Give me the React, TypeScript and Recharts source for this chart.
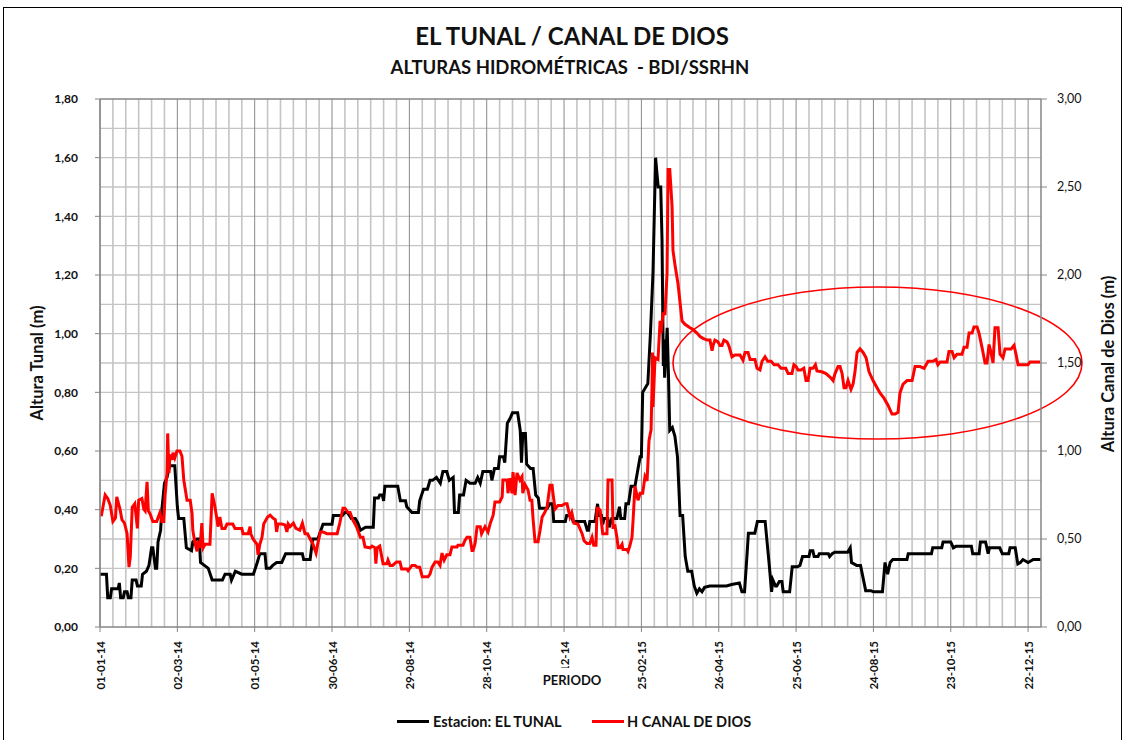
import React from 'react';
import { LineChart, Line, XAxis, YAxis, CartesianGrid, ReferenceLine, ReferenceArea } from 'recharts';

const tickDays = [0, 60, 120, 180, 240, 300, 360, 420, 480, 540, 600, 660, 720];
const tickLabels = ['01-01-14', '02-03-14', '01-05-14', '30-06-14', '29-08-14', '28-10-14', '27-12-14', '25-02-15', '26-04-15', '25-06-15', '24-08-15', '23-10-15', '22-12-15'];
const leftTicks = [0, 0.2, 0.4, 0.6, 0.8, 1.0, 1.2, 1.4, 1.6, 1.8];
const rightTicks = [0, 0.5, 1.0, 1.5, 2.0, 2.5, 3.0];

// Estacion: EL TUNAL (m) — day index from 01-01-14
const tunalDays = [0,5,6,8,9,14,15,16,18,19,21,22,24,25,28,29,32,33,36,38,40,41,43,44,45,47,48,50,52,54,58,60,61,65,67,71,72,75,77,78,81,84,87,95,97,101,102,105,110,119,122,124,128,129,132,134,137,141,144,157,158,163,165,169,173,180,181,188,190,192,195,198,200,202,206,212,213,216,217,219,220,221,231,233,237,238,242,247,248,251,254,256,258,261,264,266,269,271,274,275,278,279,282,284,287,291,293,295,297,303,304,306,309,310,313,314,316,318,320,324,326,327,328,330,331,334,336,338,340,341,347,349,351,352,361,362,366,367,376,378,379,380,384,386,387,389,390,391,394,395,397,401,403,404,407,408,410,412,415,417,419,420,421,425,427,429,431,432,433,435,436,437,437.5,438,440,441,442,444,446,448,450,452,454,456,459,461,463,465,467,469,473,486,490,496,498,500,502,503,508,510,516,519,521,522,524,525,527,529,530,535,537,541,543,545,550,551,553,554,557,558,565,566,568,570,580,582,583,587,590,594,598,600,607,609,611,613,615,626,627,645,646,653,654,660,662,664,676,677,682,683,687,689,690,698,700,705,706,710,712,714,716,720,724,730];
const tunalValues = [0.18,0.18,0.10,0.10,0.13,0.13,0.15,0.10,0.10,0.12,0.12,0.10,0.10,0.16,0.16,0.14,0.14,0.18,0.19,0.21,0.27,0.27,0.20,0.20,0.29,0.33,0.40,0.49,0.51,0.55,0.55,0.41,0.37,0.37,0.27,0.26,0.29,0.30,0.30,0.22,0.21,0.20,0.16,0.16,0.18,0.18,0.16,0.19,0.18,0.18,0.22,0.25,0.25,0.20,0.20,0.21,0.22,0.22,0.25,0.25,0.23,0.23,0.30,0.30,0.35,0.35,0.38,0.38,0.39,0.39,0.37,0.37,0.355,0.33,0.34,0.34,0.44,0.44,0.45,0.45,0.43,0.48,0.48,0.43,0.43,0.41,0.39,0.39,0.43,0.47,0.47,0.50,0.50,0.51,0.49,0.53,0.53,0.50,0.51,0.39,0.39,0.45,0.45,0.50,0.49,0.49,0.51,0.49,0.53,0.53,0.50,0.54,0.54,0.58,0.58,0.56,0.695,0.71,0.73,0.73,0.67,0.56,0.66,0.66,0.555,0.54,0.54,0.45,0.44,0.405,0.405,0.42,0.42,0.36,0.36,0.38,0.38,0.36,0.36,0.33,0.33,0.36,0.36,0.42,0.38,0.38,0.35,0.37,0.37,0.34,0.37,0.37,0.41,0.37,0.37,0.42,0.42,0.48,0.48,0.53,0.58,0.58,0.80,0.83,1.00,1.21,1.60,1.55,1.50,1.50,1.32,0.89,0.98,0.85,1.02,0.86,0.67,0.68,0.65,0.58,0.38,0.38,0.24,0.19,0.19,0.14,0.115,0.13,0.12,0.135,0.14,0.14,0.145,0.15,0.12,0.12,0.25,0.32,0.32,0.36,0.36,0.22,0.12,0.16,0.14,0.14,0.155,0.155,0.12,0.12,0.205,0.205,0.21,0.24,0.24,0.26,0.26,0.24,0.24,0.25,0.25,0.24,0.25,0.255,0.255,0.27,0.22,0.21,0.21,0.124,0.124,0.12,0.12,0.22,0.18,0.22,0.23,0.23,0.25,0.25,0.27,0.27,0.29,0.29,0.27,0.275,0.275,0.25,0.25,0.29,0.29,0.25,0.27,0.27,0.25,0.25,0.27,0.27,0.215,0.22,0.23,0.22,0.23,0.23];

// H CANAL DE DIOS (m) — right axis
const canalDays = [1,4,6,8,10,12,13,15.5,17,19,21,22.5,23.5,25,27,29,30,32.5,34,35,36.5,37.5,39,41,44,45,46.5,48,49.5,50.5,52,52.5,53.5,54.3,56,56.6,58,59.7,62,63.6,65,67.5,70,71.4,72,73.7,75.3,76,77.6,79,80,81.5,85.3,87,89,90.8,91.5,93,94.6,97,98.5,103,104.7,110,111,115,116.4,117,118.7,121.8,122.6,124,125.7,127,130,132,134,136,137,138,141,143.5,145,146,147.4,150,152,155,157,159,161,163,165,167.6,169,171,173,176,184,186,188.5,190,192.4,194,196,199,202,204,205.6,209.5,211,213.3,214,215,217,219.6,222.6,223.4,225,227,230,232.7,234,238,239,242,244.4,246,248,250,254.5,256,257.6,260,262,263.8,265.3,267,269,271.5,273,277,277.7,281.6,283,284.7,287,288.6,289.4,291,292.5,295,296,298.7,301,302.6,305,306.4,310,312,312.6,315.8,316.5,318,319.6,320.4,322,323.5,325.8,327.4,328,329.7,332,333.6,335,336,337.5,339.8,341.4,343,345,346.8,349,350.7,351.4,353,355.3,358.4,360.7,362.3,364.6,366,367.7,370.8,374,375.5,377.8,380,381.7,383,384.8,385.6,386.3,388,388.6,390,393.3,394.1,397.2,398,399.5,401,402,403.4,405,405.7,408.8,409.6,411,412.7,413.5,415,416.5,417.4,419,421,422.8,424.4,425.9,427.5,428.2,428.6,429,430.6,432.9,434.5,435.2,436.8,438.3,439.9,440.7,442,443.8,444.5,446,448.4,451.5,453.8,457.7,460,463.1,465.5,467.8,471,473.2,474.8,475.6,477,479.4,481,482.5,484,486.4,488,490.3,492.6,496.5,498.8,500.4,502.7,504.3,508.1,509.7,512,513.6,515.9,518,520.6,523,526,528.3,532,533.8,536.8,538.3,540,541.5,543.8,546,547.7,549.3,550.8,553.2,555,556.2,560,563.2,566.3,568.7,570.2,572.6,574.1,575.7,577.2,578.7,580.3,582.6,584.2,585.7,587.3,589.6,592,594.3,596.6,599.7,602.8,605.1,608.2,611.3,614.4,616.8,619.1,620.6,623,626.1,630,632.3,636.2,639.3,642.4,646.2,648.5,650,651.7,657.1,658.6,661,662.6,664.8,668.7,670.3,672.6,674.2,676.5,678,680.4,681.9,684.2,686.6,688.1,689.7,691.2,692.8,694.3,696.7,698.2,700.5,702.1,706.8,709.1,710.6,712.2,719.9,721.5,729.3];
const canalValues = [0.63,0.75,0.73,0.69,0.60,0.62,0.74,0.67,0.61,0.59,0.53,0.34,0.40,0.68,0.70,0.56,0.72,0.73,0.67,0.66,0.825,0.66,0.64,0.60,0.60,0.62,0.65,0.60,0.60,0.75,0.875,1.10,0.875,0.98,0.95,0.99,0.96,1.00,1.00,0.97,0.835,0.72,0.72,0.645,0.55,0.475,0.43,0.49,0.45,0.59,0.45,0.47,0.47,0.76,0.69,0.61,0.57,0.625,0.56,0.56,0.585,0.585,0.56,0.56,0.53,0.53,0.57,0.53,0.50,0.47,0.41,0.47,0.51,0.585,0.625,0.635,0.62,0.61,0.54,0.585,0.585,0.58,0.54,0.585,0.57,0.59,0.56,0.55,0.59,0.53,0.53,0.50,0.475,0.42,0.475,0.54,0.54,0.53,0.53,0.59,0.675,0.675,0.65,0.65,0.61,0.57,0.51,0.51,0.455,0.45,0.46,0.45,0.36,0.45,0.46,0.36,0.36,0.38,0.35,0.35,0.37,0.37,0.33,0.33,0.32,0.35,0.35,0.34,0.34,0.285,0.285,0.30,0.34,0.37,0.37,0.35,0.42,0.38,0.41,0.41,0.455,0.455,0.465,0.465,0.49,0.51,0.51,0.435,0.435,0.475,0.57,0.57,0.53,0.57,0.54,0.585,0.635,0.71,0.71,0.74,0.835,0.835,0.76,0.845,0.76,0.88,0.75,0.875,0.835,0.855,0.76,0.81,0.78,0.72,0.72,0.61,0.485,0.485,0.55,0.625,0.65,0.68,0.805,0.805,0.76,0.67,0.69,0.69,0.70,0.70,0.625,0.65,0.59,0.585,0.53,0.49,0.475,0.475,0.51,0.465,0.465,0.675,0.675,0.665,0.62,0.53,0.53,0.835,0.835,0.57,0.575,0.51,0.45,0.45,0.47,0.44,0.44,0.43,0.46,0.51,0.60,0.80,0.75,0.72,0.76,0.76,0.855,0.83,1.06,1.12,1.35,1.56,1.25,1.53,1.52,1.74,1.67,1.78,1.78,2.01,2.60,2.60,2.39,2.14,2.06,1.95,1.74,1.72,1.70,1.69,1.67,1.65,1.64,1.63,1.63,1.57,1.60,1.63,1.62,1.60,1.60,1.63,1.62,1.595,1.535,1.545,1.545,1.515,1.56,1.56,1.52,1.52,1.47,1.46,1.51,1.535,1.51,1.51,1.49,1.49,1.47,1.47,1.44,1.44,1.49,1.48,1.46,1.46,1.47,1.40,1.40,1.47,1.47,1.49,1.455,1.45,1.44,1.42,1.40,1.44,1.48,1.48,1.44,1.36,1.36,1.40,1.35,1.38,1.45,1.56,1.58,1.56,1.53,1.45,1.40,1.36,1.33,1.30,1.26,1.21,1.21,1.22,1.33,1.38,1.40,1.40,1.48,1.48,1.47,1.51,1.51,1.52,1.49,1.505,1.505,1.565,1.565,1.53,1.55,1.55,1.59,1.59,1.67,1.67,1.705,1.705,1.67,1.59,1.50,1.50,1.605,1.56,1.50,1.70,1.70,1.55,1.53,1.58,1.58,1.60,1.55,1.49,1.49,1.505,1.505];

// Annotation ellipse extents (days, right-axis metres)
const ellipseDays = [444.5, 761.8];
const ellipseLevels = [1.068, 1.932];

const minorGridDays: number[] = [];
for (let d = 10; d < 730; d += 10) if (d % 60 !== 0) minorGridDays.push(d);
const hGridValues: number[] = [];
for (let i = 1; i <= 17; i++) hGridValues.push(Math.round(i * 10) / 100);

const rows = (() => {
  const m = new Map<number, any>();
  tunalDays.forEach((d, i) => { m.set(d, { ...(m.get(d) || { day: d }), tunal: tunalValues[i] }); });
  canalDays.forEach((d, i) => { m.set(d, { ...(m.get(d) || { day: d }), canal: canalValues[i] }); });
  return Array.from(m.values()).sort((a, b) => a.day - b.day);
})();

const FONT = 'Lato, "Open Sans", sans-serif';
const AXIS = '#868686';
const comma = (v: number) => v.toFixed(2).replace('.', ',');

const XTick = (p: any) => {
  const { x, y, payload } = p;
  const idx = tickDays.indexOf(payload.value);
  return (
    <text x={x} y={y} transform={`rotate(-90, ${x}, ${y})`} textAnchor="end" dominantBaseline="central"
      fontFamily={FONT} fontWeight={700} fontSize={11.5} fill="#111">
      {idx >= 0 ? tickLabels[idx] : ''}
    </text>
  );
};

const EllipseShape = (p: any) => {
  const w = Math.abs(p.width), h = Math.abs(p.height);
  const x = Math.min(p.x, p.x + p.width), y = Math.min(p.y, p.y + p.height);
  return <ellipse cx={x + w / 2} cy={y + h / 2} rx={w / 2} ry={h / 2} fill="none" stroke="#ff0000" strokeWidth={1.6} />;
};

export default function App() {
  return (
    <div style={{ position: 'absolute', left: 0, top: 0, width: 1127, height: 740, background: '#fff', fontFamily: FONT, overflow: 'hidden' }}>
      <div style={{ position: 'absolute', left: 3, top: 7, width: 1117, height: 760, border: '1px solid #000' }} />
      <div style={{ position: 'absolute', left: 0, width: 1144, top: 20, textAlign: 'center', fontWeight: 700, fontSize: 24, color: '#111', lineHeight: '32px' }}>EL TUNAL / CANAL DE DIOS</div>
      <div style={{ position: 'absolute', left: 0, width: 1140, top: 55, textAlign: 'center', fontWeight: 700, fontSize: 18.5, color: '#111', lineHeight: '24px' }}>ALTURAS HIDROMÉTRICAS&nbsp; - BDI/SSRHN</div>
      <div style={{ position: 'absolute', left: 0, top: 0 }}>
        <LineChart width={1127} height={740} data={rows} margin={{ top: 99, right: 26, bottom: 53, left: 40 }}>
          <CartesianGrid yAxisId="left" vertical={false} horizontalValues={hGridValues} stroke="#c4c4c4" strokeWidth={1.4} />
          <CartesianGrid yAxisId="left" horizontal={false} verticalValues={minorGridDays} stroke="#c4c4c4" strokeWidth={1.6} />
          <CartesianGrid yAxisId="left" horizontal={false} verticalValues={tickDays} stroke="#8a8a8a" strokeWidth={1} />
          <XAxis dataKey="day" type="number" domain={[0, 730]} ticks={tickDays} interval={0} allowDataOverflow
            height={60} tick={<XTick />} tickSize={5} tickMargin={9} stroke={AXIS} axisLine={{ stroke: AXIS, strokeWidth: 1.5 }} tickLine={{ stroke: AXIS }} />
          <YAxis yAxisId="left" domain={[0, 1.8]} ticks={leftTicks} interval={0} width={60} tickFormatter={comma}
            tickSize={5} tickMargin={17} axisLine={{ stroke: AXIS, strokeWidth: 1.5 }} tickLine={{ stroke: AXIS }}
            tick={{ fontFamily: FONT, fontWeight: 700, fontSize: 12, fill: '#111' }} />
          <YAxis yAxisId="right" orientation="right" domain={[0, 3]} ticks={rightTicks} interval={0} width={60} tickFormatter={comma}
            tickSize={6} tickMargin={10} axisLine={{ stroke: AXIS, strokeWidth: 1.5 }} tickLine={{ stroke: AXIS }}
            tick={{ fontFamily: FONT, fontWeight: 400, fontSize: 12.5, fill: '#111' }} />
          <ReferenceLine yAxisId="left" y={1.8} stroke={AXIS} strokeWidth={1.5} />
          <Line yAxisId="left" dataKey="tunal" type="linear" stroke="#000" strokeWidth={3} dot={false} connectNulls isAnimationActive={false} />
          <Line yAxisId="right" dataKey="canal" type="linear" stroke="#ff0000" strokeWidth={3} dot={false} connectNulls isAnimationActive={false} />
          <ReferenceArea yAxisId="right" x1={ellipseDays[0]} x2={ellipseDays[1]} y1={ellipseLevels[0]} y2={ellipseLevels[1]}
            ifOverflow="visible" shape={<EllipseShape />} />
        </LineChart>
      </div>
      <div style={{ position: 'absolute', left: 37, top: 363, transform: 'translate(-50%, -50%) rotate(-90deg)', whiteSpace: 'nowrap', fontWeight: 700, fontSize: 16.5, color: '#111' }}>Altura Tunal (m)</div>
      <div style={{ position: 'absolute', left: 1108, top: 364, transform: 'translate(-50%, -50%) rotate(-90deg)', whiteSpace: 'nowrap', fontWeight: 700, fontSize: 16.5, color: '#111' }}>Altura Canal de Dios (m)</div>
      <div style={{ position: 'absolute', left: 540, top: 668, width: 64, height: 28, background: '#fff', textAlign: 'center', fontWeight: 700, fontSize: 13, lineHeight: '24px', color: '#111' }}>PERIODO</div>
      <div style={{ position: 'absolute', left: 397, top: 720, width: 32, height: 3, background: '#000' }} />
      <div style={{ position: 'absolute', left: 433, top: 712, fontWeight: 700, fontSize: 14.5, lineHeight: '20px', color: '#111', whiteSpace: 'nowrap' }}>Estacion: EL TUNAL</div>
      <div style={{ position: 'absolute', left: 592, top: 720, width: 32, height: 3, background: '#ff0000' }} />
      <div style={{ position: 'absolute', left: 627, top: 712, fontWeight: 700, fontSize: 14.5, lineHeight: '20px', color: '#111', whiteSpace: 'nowrap' }}>H CANAL DE DIOS</div>
    </div>
  );
}
